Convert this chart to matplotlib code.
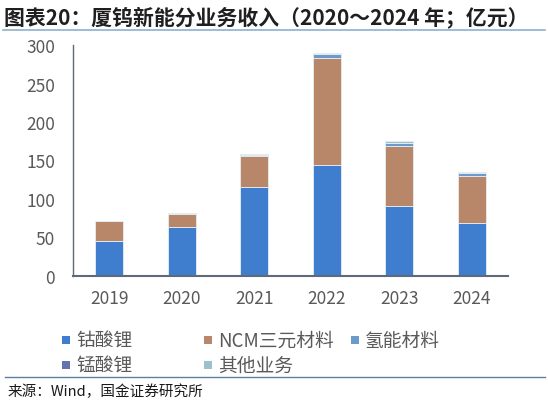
import matplotlib
matplotlib.use("Agg")
import matplotlib.pyplot as plt
from matplotlib.patches import Rectangle
from matplotlib.lines import Line2D
import numpy as np

plt.rcParams['font.family'] = ['Noto Sans CJK SC', 'DejaVu Sans']

years = ['2019', '2020', '2021', '2022', '2023', '2024']
licoo2 = [45.5, 63.5, 116, 144.5, 90.5, 68.5]
ncm = [25.5, 17.5, 40, 138, 78, 61]
hydrogen = [0, 0, 0.5, 6, 4.5, 4.5]
limn = [0, 0, 0, 0, 0, 0]
other = [1, 1, 1.5, 1, 2, 1]

series_names = ['钴酸锂', 'NCM三元材料', '氢能材料', '锰酸锂', '其他业务']
series_vals = [licoo2, ncm, hydrogen, limn, other]
colors = ['#3F7ECF', '#B8876A', '#6B9BCB', '#6475AE', '#9BC2CB']

title = '图表20：厦钨新能分业务收入（2020～2024 年；亿元）'
source = '来源：Wind，国金证券研究所'
yticks = [0, 50, 100, 150, 200, 250, 300]

W, H = 548, 406
fig = plt.figure(figsize=(W / 100, H / 100), dpi=100)
ax = fig.add_axes([73 / W, 1 - 277 / H, (508 - 73) / W, (277 - 46) / H])

x = np.arange(len(years))
bottom = np.zeros(len(years))
for name, vals, c in zip(series_names, series_vals, colors):
    v = np.array(vals, dtype=float)
    ax.bar(x, v, bottom=bottom, width=0.39, color=c, edgecolor='#E8EEF3',
           linewidth=0.6, label=name, zorder=2)
    bottom += v

ax.set_xlim(-0.5, len(years) - 0.5)
ax.set_ylim(0, 300)
ax.set_yticks(yticks)
ax.set_yticklabels([str(t) for t in yticks])
ax.set_xticks(x)
ax.set_xticklabels(years)
ax.tick_params(axis='y', length=0, pad=13, labelsize=12.5, labelcolor='#595959')
ax.tick_params(axis='x', length=0, pad=9, labelsize=12.5, labelcolor='#595959')
for s in ['top', 'right']:
    ax.spines[s].set_visible(False)
ax.spines['left'].set_color('#5E6A7C')
ax.spines['left'].set_linewidth(1.0)
ax.spines['bottom'].set_color('#5E6A7C')
ax.spines['bottom'].set_linewidth(1.5)

# title
fig.text(4 / W, 1 - 17 / H, title, fontsize=15, fontweight='bold', color='#1F1F1F',
         ha='left', va='center')
fig.add_artist(Line2D([3 / W, 545 / W], [1 - 31 / H, 1 - 31 / H], color='#8FB0C8', lw=1.2))

# legend (manual)
leg_pos = [(66, 341), (208, 341), (355, 341), (66, 366), (208, 366)]
for (px, py), name, c in zip(leg_pos, series_names, colors):
    fig.add_artist(Rectangle(((px - 4) / W, 1 - (py + 4) / H), 8 / W, 8 / H,
                             facecolor=c, edgecolor='none', transform=fig.transFigure))
    fig.text((px + 10) / W, 1 - py / H, name, fontsize=13.5, color='#595959',
             ha='left', va='center')

fig.add_artist(Line2D([5 / W, 545 / W], [1 - 378 / H, 1 - 378 / H], color='#5A7FA0', lw=1.0))
fig.text(8 / W, 1 - 392 / H, source, fontsize=10.5, color='#1A1A1A', ha='left', va='center')

fig.savefig('out.png', dpi=100)
